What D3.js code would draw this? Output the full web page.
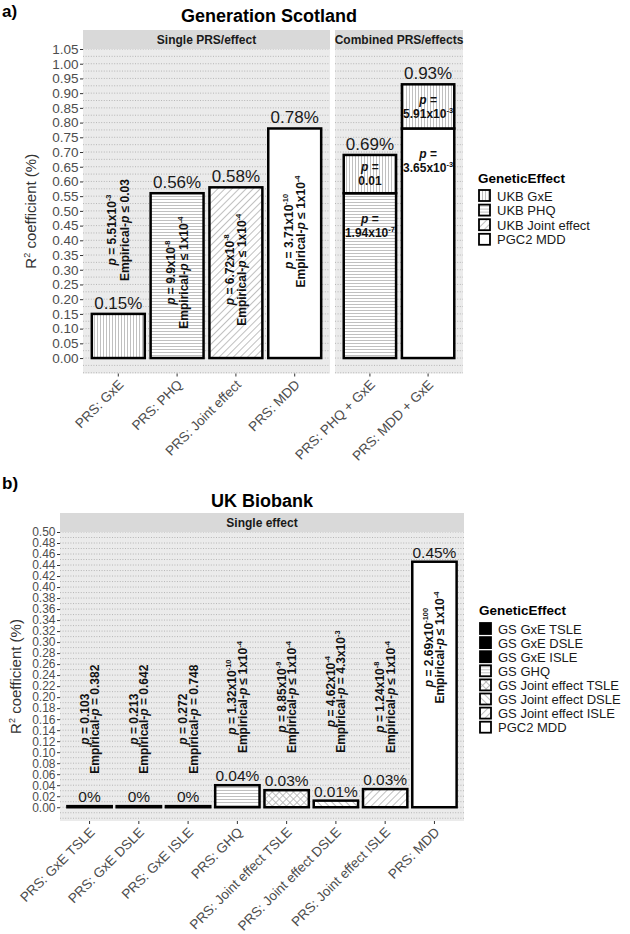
<!DOCTYPE html>
<html>
<head>
<meta charset="utf-8">
<script src="https://cdn.jsdelivr.net/npm/d3@7"></script>
<style>
  body { margin: 0; background: #fff; }
  svg { display: block; }
  text { font-family: "Liberation Sans", Arial, sans-serif; }
</style>
</head>
<body>
<svg id="chart" width="630" height="934"></svg>
<script>
// ---- Generation Scotland (panel a) ----
const gsSingleCats = ['PRS: GxE', 'PRS: PHQ', 'PRS: Joint effect', 'PRS: MDD'];
const gsSingleEffect = ['UKB GxE', 'UKB PHQ', 'UKB Joint effect', 'PGC2 MDD'];
const gsSingleR2 = [0.15, 0.56, 0.58, 0.78];
const gsSingleLabelAt = [0.435, 0.29, 0.30, 0.43];   // y value of the rotated p-value text
const gsSingleP = [
  ['*p* = 5.51x10^{-3}', 'Empirical-*p* ≤ 0.03'],
  ['*p* = 9.9x10^{-8}', 'Empirical-*p* ≤ 1x10^{-4}'],
  ['*p* = 6.72x10^{-8}', 'Empirical-*p* ≤ 1x10^{-4}'],
  ['*p* = 3.71x10^{-10}', 'Empirical-*p* ≤ 1x10^{-4}']
];
const gsCombCats = ['PRS: PHQ + GxE', 'PRS: MDD + GxE'];
const gsCombBaseEffect = ['UKB PHQ', 'PGC2 MDD'];
const gsCombBaseR2 = [0.56, 0.78];
const gsCombGxER2 = [0.13, 0.15];
const gsCombBaseP = [['*p* =', '1.94x10^{-7}'], ['*p* =', '3.65x10^{-3}']];
const gsCombGxEP = [['*p* =', '0.01'], ['*p* =', '5.91x10^{-3}']];
const gsLegend = ['UKB GxE', 'UKB PHQ', 'UKB Joint effect', 'PGC2 MDD'];
const gsTicks = d3.range(0, 21.5).map(i => i * 0.05);

// ---- UK Biobank (panel b) ----
const ukCats = ['PRS: GxE TSLE', 'PRS: GxE DSLE', 'PRS: GxE ISLE', 'PRS: GHQ',
  'PRS: Joint effect TSLE', 'PRS: Joint effect DSLE', 'PRS: Joint effect ISLE', 'PRS: MDD'];
const ukEffect = ['GS GxE TSLE', 'GS GxE DSLE', 'GS GxE ISLE', 'GS GHQ',
  'GS Joint effect TSLE', 'GS Joint effect DSLE', 'GS Joint effect ISLE', 'PGC2 MDD'];
const ukR2 = [0.002, 0.002, 0.002, 0.04, 0.031, 0.012, 0.033, 0.446];
const ukLabelAt = [0.16, 0.16, 0.16, 0.20, 0.20, 0.21, 0.20, 0.29];
const ukP = [
  ['*p* = 0.103', 'Empirical-*p* = 0.382'],
  ['*p* = 0.213', 'Empirical-*p* = 0.642'],
  ['*p* = 0.272', 'Empirical-*p* = 0.748'],
  ['*p* = 1.32x10^{-10}', 'Empirical-*p* ≤ 1x10^{-4}'],
  ['*p* = 8.85x10^{-9}', 'Empirical-*p* ≤ 1x10^{-4}'],
  ['*p* = 4.62x10^{-4}', 'Empirical-*p* = 4.3x10^{-3}'],
  ['*p* = 1.24x10^{-8}', 'Empirical-*p* ≤ 1x10^{-4}'],
  ['*p* = 2.69x10^{-100}', 'Empirical-*p* ≤ 1x10^{-4}']
];
const ukTicks = d3.range(0, 25.5).map(i => i * 0.02);

const svg = d3.select('#chart');
const defs = svg.append('defs');

// hatch fills
function hatch(id, angle, gap, cross) {
  const p = defs.append('pattern')
    .attr('id', id)
    .attr('patternUnits', 'userSpaceOnUse')
    .attr('width', gap).attr('height', gap)
    .attr('patternTransform', `rotate(${angle})`);
  p.append('rect').attr('width', gap).attr('height', gap).attr('fill', '#fff');
  p.append('line')
    .attr('x1', gap / 2).attr('x2', gap / 2).attr('y1', 0).attr('y2', gap)
    .attr('stroke', '#b0b0b0').attr('stroke-width', 0.8);
  if (cross) {
    p.append('line')
      .attr('y1', gap / 2).attr('y2', gap / 2).attr('x1', 0).attr('x2', gap)
      .attr('stroke', '#b0b0b0').attr('stroke-width', 0.8);
  }
}
hatch('vert', 0, 3);
hatch('horiz', 90, 3);
hatch('diagR', 45, 5);
hatch('diagL', -45, 5);
hatch('cross', 45, 5, true);

const fill = d3.scaleOrdinal()
  .domain(['UKB GxE', 'UKB PHQ', 'UKB Joint effect', 'PGC2 MDD',
    'GS GxE TSLE', 'GS GxE DSLE', 'GS GxE ISLE', 'GS GHQ',
    'GS Joint effect TSLE', 'GS Joint effect DSLE', 'GS Joint effect ISLE'])
  .range(['url(#vert)', 'url(#horiz)', 'url(#diagR)', '#fff',
    '#000', '#000', '#000', 'url(#horiz)',
    'url(#cross)', 'url(#diagL)', 'url(#diagR)']);

// *italic* and ^{superscript} markup
function rich(text, str, size) {
  const parts = str.split(/(\*[^*]+\*|\^\{[^}]+\})/).filter(s => s);
  let raised = false;
  parts.forEach(s => {
    if (s[0] === '*') {
      text.append('tspan').attr('font-style', 'italic').text(s.slice(1, -1));
    } else if (s[0] === '^') {
      text.append('tspan').attr('font-size', size * 0.62).attr('dy', -size * 0.42).text(s.slice(2, -1));
      raised = true;
    } else {
      const t = text.append('tspan').text(s);
      if (raised) { t.attr('dy', size * 0.42); raised = false; }
    }
  });
}

function panel(cfg) {
  const g = svg.append('g');
  const y = d3.scaleLinear().domain(cfg.yDomain).range([cfg.bottom, cfg.top]);
  const step = cfg.gridStep;
  const grid = d3.range(Math.ceil(cfg.yDomain[0] / step - 1e-6), Math.floor(cfg.yDomain[1] / step + 1e-6) + 1)
    .map(i => i * step);

  cfg.facets.forEach(f => {
    f.x = d3.scaleBand().domain(f.cats).range([f.x0, f.x1]).paddingInner(0.1).paddingOuter(0.15);

    g.append('rect')
      .attr('x', f.x0).attr('y', cfg.top)
      .attr('width', f.x1 - f.x0).attr('height', cfg.bottom - cfg.top)
      .attr('fill', '#ebebeb');

    g.append('g').selectAll('line')
      .data(grid)
      .join('line')
      .attr('x1', f.x0).attr('x2', f.x1)
      .attr('y1', d => y(d)).attr('y2', d => y(d))
      .attr('stroke', '#a8a8a8').attr('stroke-width', 0.8)
      .attr('stroke-dasharray', '1,1.6');

    g.append('rect')
      .attr('x', f.x0).attr('y', cfg.top - 19)
      .attr('width', f.x1 - f.x0).attr('height', 19)
      .attr('fill', '#d9d9d9');
    g.append('text')
      .attr('x', (f.x0 + f.x1) / 2).attr('y', cfg.top - 5.5)
      .attr('text-anchor', 'middle')
      .attr('font-size', 12).attr('font-weight', 'bold').attr('fill', '#1a1a1a')
      .text(f.strip);

    const xa = g.append('g')
      .attr('transform', `translate(0,${cfg.bottom})`)
      .call(d3.axisBottom(f.x).tickSize(3).tickSizeOuter(0));
    xa.select('.domain').remove();
    xa.selectAll('line').attr('stroke', '#333');
    xa.selectAll('text')
      .attr('x', 0).attr('y', 0).attr('dy', 0)
      .attr('transform', 'translate(6,12) rotate(-45)')
      .attr('text-anchor', 'end')
      .attr('font-size', 13.5).attr('fill', '#4d4d4d')
      .attr('font-family', '"Liberation Sans", Arial, sans-serif');
  });

  const ya = g.append('g')
    .attr('transform', `translate(${cfg.facets[0].x0},0)`)
    .call(d3.axisLeft(y).tickValues(cfg.ticks).tickFormat(d3.format('.2f')).tickSize(3));
  ya.select('.domain').remove();
  ya.selectAll('line').attr('stroke', '#333');
  ya.selectAll('text')
    .attr('x', -4.5)
    .attr('font-size', cfg.tickFont).attr('fill', '#4d4d4d')
    .attr('font-family', '"Liberation Sans", Arial, sans-serif');

  const yt = g.append('text')
    .attr('transform', `translate(${cfg.yTitleX},${(cfg.top + cfg.bottom) / 2}) rotate(-90)`)
    .attr('text-anchor', 'middle')
    .attr('font-size', 15).attr('fill', '#333');
  yt.append('tspan').text('R');
  yt.append('tspan').attr('font-size', 9).attr('dy', -6).text('2');
  yt.append('tspan').attr('dy', 6).text(' coefficient (%)');

  return { g, y };
}

function bar(g, x0, w, yTop, yBot, effect) {
  g.append('rect')
    .attr('x', x0).attr('y', yTop)
    .attr('width', w).attr('height', Math.max(yBot - yTop, 0.5))
    .attr('fill', fill(effect))
    .attr('stroke', '#000').attr('stroke-width', 2.5);
}

function pctLabel(g, cx, yTop, v, size) {
  g.append('text')
    .attr('x', cx).attr('y', yTop - 5)
    .attr('text-anchor', 'middle')
    .attr('font-size', size).attr('fill', '#1a1a1a')
    .text(`${+v.toFixed(2)}%`);
}

function vertLabel(g, cx, cy, lines, gap) {
  const t = g.append('g').attr('transform', `translate(${cx},${cy}) rotate(-90)`);
  lines.forEach((s, i) => {
    const txt = t.append('text')
      .attr('y', (i - 0.5) * gap).attr('dy', '0.35em')
      .attr('text-anchor', 'middle')
      .attr('font-size', 12).attr('font-weight', 'bold')
      .attr('font-family', '"Liberation Sans Narrow", "DejaVu Sans Condensed", sans-serif')
      .attr('fill', '#111');
    rich(txt, s, 12);
  });
}

function flatLabel(g, cx, cy, lines) {
  lines.forEach((s, i) => {
    const txt = g.append('text')
      .attr('x', cx).attr('y', cy + (i - 0.5) * 14).attr('dy', '0.35em')
      .attr('text-anchor', 'middle')
      .attr('font-size', 12).attr('font-weight', 'bold').attr('fill', '#111');
    rich(txt, s, 12);
  });
}

function legend(x, titleY, firstKey, step, items) {
  const g = svg.append('g');
  g.append('text')
    .attr('x', x).attr('y', titleY)
    .attr('font-size', 13.5).attr('font-weight', 'bold').attr('fill', '#000')
    .text('GeneticEffect');
  const row = g.selectAll('g.key')
    .data(items)
    .join('g')
    .attr('class', 'key')
    .attr('transform', (d, i) => `translate(${x},${firstKey + i * step})`);
  row.append('rect')
    .attr('x', 1).attr('y', -6)
    .attr('width', 11).attr('height', 11)
    .attr('fill', d => fill(d))
    .attr('stroke', '#000').attr('stroke-width', 1.8);
  row.append('text')
    .attr('x', 19).attr('y', 0).attr('dy', '0.35em')
    .attr('font-size', 13).attr('fill', '#1a1a1a')
    .text(d => d);
}

// ---------- panel a ----------
svg.append('text').attr('x', 2).attr('y', 17)
  .attr('font-size', 17).attr('font-weight', 'bold').text('a)');
svg.append('text').attr('x', 269).attr('y', 22)
  .attr('text-anchor', 'middle')
  .attr('font-size', 18).attr('font-weight', 'bold').text('Generation Scotland');

const pa = panel({
  top: 49, bottom: 373.5, yDomain: [-0.0525, 1.05], gridStep: 0.025, ticks: gsTicks,
  tickFont: 13.5, yTitleX: 36,
  facets: [
    { x0: 83, x1: 330, cats: gsSingleCats, strip: 'Single PRS/effect' },
    { x0: 335, x1: 463, cats: gsCombCats, strip: 'Combined PRS/effects' }
  ]
});
const aSingle = pa.g.append('g'), aComb = pa.g.append('g');
const xaS = d3.scaleBand().domain(gsSingleCats).range([83, 330]).paddingInner(0.1).paddingOuter(0.15);
const xaC = d3.scaleBand().domain(gsCombCats).range([335, 463]).paddingInner(0.1).paddingOuter(0.15);

gsSingleCats.forEach((c, i) => {
  const x0 = xaS(c), w = xaS.bandwidth(), cx = x0 + w / 2;
  bar(aSingle, x0, w, pa.y(gsSingleR2[i]), pa.y(0), gsSingleEffect[i]);
  pctLabel(aSingle, cx, pa.y(gsSingleR2[i]), gsSingleR2[i], 17);
  vertLabel(aSingle, cx, pa.y(gsSingleLabelAt[i]), gsSingleP[i], 12.5);
});

gsCombCats.forEach((c, i) => {
  const x0 = xaC(c), w = xaC.bandwidth(), cx = x0 + w / 2;
  const base = gsCombBaseR2[i], tot = base + gsCombGxER2[i];
  bar(aComb, x0, w, pa.y(base), pa.y(0), gsCombBaseEffect[i]);
  bar(aComb, x0, w, pa.y(tot), pa.y(base), 'UKB GxE');
  pctLabel(aComb, cx, pa.y(tot), tot, 17);
  flatLabel(aComb, cx, pa.y((base + tot) / 2), gsCombGxEP[i]);
  flatLabel(aComb, cx, pa.y(base - 0.11), gsCombBaseP[i]);
});

legend(478, 183, 196, 14.6, gsLegend);

// ---------- panel b ----------
svg.append('text').attr('x', 2).attr('y', 489)
  .attr('font-size', 17).attr('font-weight', 'bold').text('b)');
svg.append('text').attr('x', 262).attr('y', 507)
  .attr('text-anchor', 'middle')
  .attr('font-size', 18).attr('font-weight', 'bold').text('UK Biobank');

const pb = panel({
  top: 532, bottom: 821, yDomain: [-0.025, 0.5], gridStep: 0.01, ticks: ukTicks,
  tickFont: 12, yTitleX: 21,
  facets: [{ x0: 60, x1: 464, cats: ukCats, strip: 'Single effect' }]
});
const bBars = pb.g.append('g');
const xb = d3.scaleBand().domain(ukCats).range([60, 464]).paddingInner(0.1).paddingOuter(0.15);

ukCats.forEach((c, i) => {
  const x0 = xb(c), w = xb.bandwidth(), cx = x0 + w / 2;
  bar(bBars, x0, w, pb.y(ukR2[i]), pb.y(0), ukEffect[i]);
  pctLabel(bBars, cx, pb.y(ukR2[i]) + 1, ukR2[i], 15.5);
  vertLabel(bBars, cx, pb.y(ukLabelAt[i]), ukP[i], 10.5);
});

legend(479, 615, 629, 14.1, ukEffect);
</script>
</body>
</html>
